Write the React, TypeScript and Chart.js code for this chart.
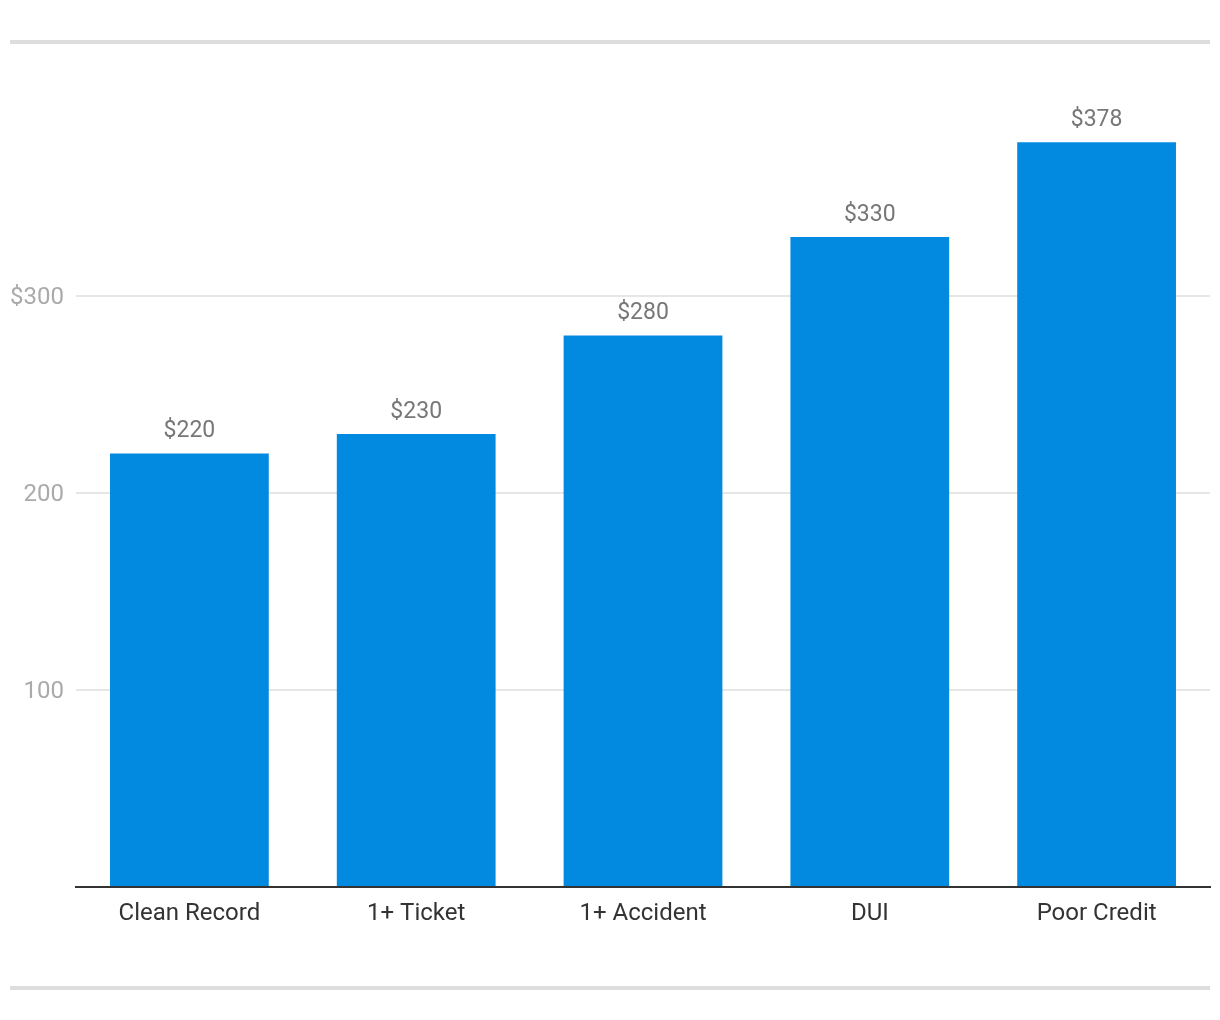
import React, { useEffect, useRef } from "react";
import { Chart, registerables } from "chart.js";

Chart.register(...registerables);

const categories = ["Clean Record", "1+ Ticket", "1+ Accident", "DUI", "Poor Credit"];
const premiums = [220, 230, 280, 330, 378];
const yTicks = [100, 200, 300];

const framePlugin = {
  id: "frameLines",
  beforeDraw(chart: any) {
    const ctx = chart.ctx;
    ctx.save();
    ctx.fillStyle = "#dddddd";
    ctx.fillRect(10, 40, 1200, 4);
    ctx.fillRect(10, 986, 1200, 4);
    ctx.restore();
  },
};

const valueLabelPlugin = {
  id: "valueLabels",
  afterDatasetsDraw(chart: any) {
    const ctx = chart.ctx;
    const meta = chart.getDatasetMeta(0);
    ctx.save();
    ctx.font = "23px Roboto";
    ctx.fillStyle = "#777777";
    ctx.textAlign = "center";
    ctx.textBaseline = "middle";
    meta.data.forEach((bar: any, i: number) => {
      ctx.fillText("$" + premiums[i], bar.x, bar.y - 22);
    });
    ctx.restore();
  },
};

export default function App() {
  const ref = useRef<HTMLCanvasElement>(null);
  useEffect(() => {
    if (!ref.current) return;
    const chart = new Chart(ref.current, {
      type: "bar",
      data: {
        labels: categories,
        datasets: [
          {
            data: premiums,
            backgroundColor: "#028ae0",
            barPercentage: 0.7,
            categoryPercentage: 1,
          },
        ],
      },
      plugins: [framePlugin, valueLabelPlugin],
      options: {
        responsive: false,
        animation: false,
        layout: { padding: { left: 10, right: 10, top: 99, bottom: 83 } },
        plugins: { legend: { display: false }, tooltip: { enabled: false } },
        scales: {
          x: {
            grid: { display: false },
            border: { display: true, color: "#333333", width: 2 },
            ticks: { color: "#333333", font: { family: "Roboto", size: 24 }, padding: 5 },
            afterFit(scale: any) {
              scale.height = 50;
            },
          },
          y: {
            min: 0,
            max: 400,
            border: { display: false },
            grid: {
              color: (c: any) => (yTicks.includes(c.tick?.value) ? "#e6e6e6" : "rgba(0,0,0,0)"),
              lineWidth: 2,
              drawTicks: false,
            },
            afterBuildTicks(scale: any) {
              scale.ticks = [0, ...yTicks, 400].map((v) => ({ value: v }));
            },
            ticks: {
              color: "#aaaaaa",
              font: { family: "Roboto", size: 24 },
              padding: 12,
              labelOffset: 2,
              callback: (v: any) => {
                if (!yTicks.includes(v)) return "";
                return v === yTicks[yTicks.length - 1] ? "$" + v : String(v);
              },
            },
            afterFit(scale: any) {
              scale.width = 66;
            },
          },
        },
      },
    });
    return () => chart.destroy();
  }, []);
  return (
    <div style={{ position: "absolute", left: 0, top: 0, width: 1220, height: 1020, background: "#fff" }}>
      <canvas ref={ref} width={1220} height={1020} style={{ width: 1220, height: 1020 }} />
    </div>
  );
}
